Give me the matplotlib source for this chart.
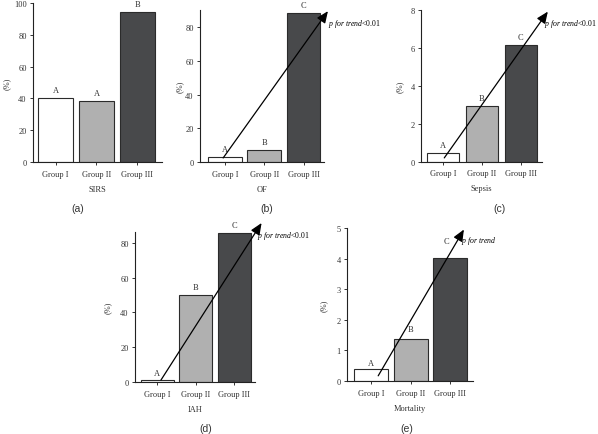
import matplotlib
matplotlib.use("Agg")
import matplotlib.pyplot as plt
import numpy as np

plt.rcParams['font.family'] = ['Liberation Serif', 'DejaVu Serif']
plt.rcParams['mathtext.fontset'] = 'custom'
plt.rcParams['mathtext.it'] = 'Liberation Serif:italic'
plt.rcParams['mathtext.rm'] = 'Liberation Serif'

groups = ["Group I", "Group II", "Group III"]
sirs = [40.5, 38.5, 94.5]
organ_failure = [3.0, 7.1, 88.5]
sepsis = [0.45, 2.92, 6.14]
iah = [1.0, 50.0, 85.5]
mortality = [0.39, 1.38, 4.03]
letters_sirs = ["A", "A", "B"]
letters_abc = ["A", "B", "C"]
outcomes = ["SIRS", "OF", "Sepsis", "IAH", "Mortality"]
panel_tags = ["(a)", "(b)", "(c)", "(d)", "(e)"]

bar_colors = ["#ffffff", "#b0b0b0", "#48494b"]
W, H = 598, 435

fig = plt.figure(figsize=(W / 100, H / 100), dpi=100)


def make_axes(x0, x1, y0, y1):
    # pixel box -> figure fraction
    return fig.add_axes([x0 / W, 1 - y0 / H, (x1 - x0) / W, (y0 - y1) / H])


def draw_panel(ax, vals, letters, xlabel, ylim, yticks, xlim, bw,
               letter_pos=None, arrow=None, p_text=None, ylpad=4):
    x = np.arange(len(vals))
    ax.bar(x, vals, width=bw, color=bar_colors, edgecolor="#2b2b2b", linewidth=0.8)
    ax.set_xlim(*xlim)
    ax.set_ylim(*ylim)
    ax.set_yticks(yticks)
    ax.set_xticks(x)
    ax.set_xticklabels(groups, fontsize=6)
    ax.tick_params(axis="y", labelsize=6, length=2.5, width=0.7, pad=2, colors="#333333")
    ax.tick_params(axis="x", length=2.5, width=0.7, pad=3, colors="#333333")
    for s in ["top", "right"]:
        ax.spines[s].set_visible(False)
    for s in ["left", "bottom"]:
        ax.spines[s].set_linewidth(0.8)
        ax.spines[s].set_color("#222222")
    ax.set_xlabel(xlabel, fontsize=6, labelpad=5, color="#333333")
    ax.set_ylabel("(%)", fontsize=6, labelpad=ylpad, color="#333333")
    off = (ylim[1] - ylim[0]) * 0.025
    for i, (v, l) in enumerate(zip(vals, letters)):
        lx, ly = (i, v + off) if letter_pos is None else letter_pos[i]
        ax.text(lx, ly, l, ha="center", va="bottom", fontsize=6, color="#333333",
                clip_on=False)
    if arrow is not None:
        (sx, sy), (ex, ey) = arrow
        ax.annotate("", xy=(ex, ey), xytext=(sx, sy), annotation_clip=False,
                    arrowprops=dict(arrowstyle="-|>,head_length=0.7,head_width=0.3",
                                    color="black", lw=0.9, shrinkA=0, shrinkB=0))
    if p_text is not None:
        tx, ty, s = p_text
        ax.text(tx, ty, s, fontsize=5.6, ha="left", va="center", clip_on=False)


# (a) SIRS
ax = make_axes(33, 162, 163, 4)
draw_panel(ax, sirs, letters_sirs, outcomes[0], (0, 100), range(0, 101, 20),
           (-0.55, 2.6), 0.85, ylpad=2)

# (b) OF
ax = make_axes(200, 324, 163, 11.3)
draw_panel(ax, organ_failure, letters_abc, outcomes[1], (0, 90), range(0, 81, 20),
           (-0.64, 2.52), 0.86,
           arrow=((-0.05, 2.4), (2.62, 89.5)),
           p_text=(2.62, 82.4, r"$\mathit{p\ for\ trend}$<0.01"), ylpad=1)

# (c) Sepsis
ax = make_axes(421, 542, 162.7, 10.7)
draw_panel(ax, sepsis, letters_abc, outcomes[2], (0, 8), range(0, 9, 2),
           (-0.57, 2.55), 0.83,
           arrow=((0.03, 0.2), (2.7, 7.9)),
           p_text=(2.6, 7.3, r"$\mathit{p\ for\ trend}$<0.01"), ylpad=5)

# (d) IAH
ax = make_axes(135, 255, 383, 232.7)
draw_panel(ax, iah, letters_abc, outcomes[3], (0, 86.3), range(0, 81, 20),
           (-0.57, 2.53), 0.85,
           arrow=((0.1, 1.1), (2.7, 91.3)),
           p_text=(2.58, 84.6, r"$\mathit{p\ for\ trend}$<0.01"), ylpad=6)

# (e) Mortality
ax = make_axes(347, 473, 382, 229.3)
draw_panel(ax, mortality, letters_abc, outcomes[4], (0, 5), range(0, 6, 1),
           (-0.61, 2.58), 0.86,
           letter_pos=[(0, 0.47), (1, 1.56), (1.9, 4.45)],
           arrow=((0.18, 0.17), (2.35, 4.96)),
           p_text=(2.27, 4.62, r"$\mathit{p\ for\ trend}$"), ylpad=6)

tag_pos = [(78, 209), (267, 209), (500, 209), (206, 429), (407, 429)]
for t, (px, py) in zip(panel_tags, tag_pos):
    fig.text(px / W, 1 - py / H, t, ha="center", va="center", fontsize=7.5,
             family=["Liberation Sans", "DejaVu Sans"], color="#333333")

fig.savefig("out.png", dpi=100)
